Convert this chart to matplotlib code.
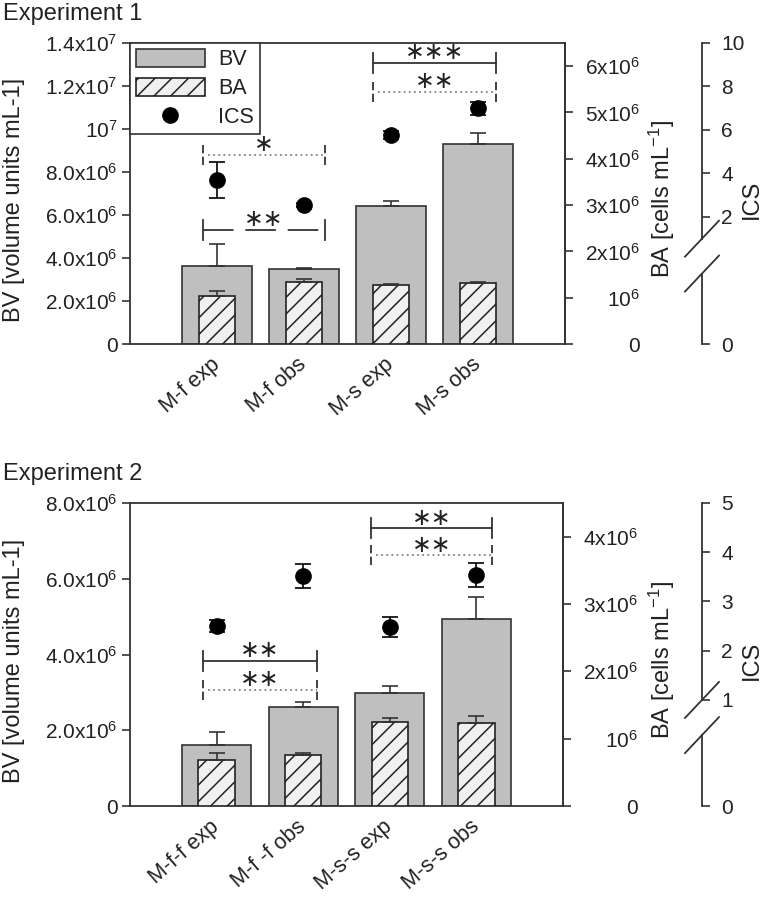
import numpy as np
import matplotlib
matplotlib.use('Agg')
import matplotlib.pyplot as plt
from matplotlib.patches import Patch
from matplotlib.lines import Line2D

plt.rcParams['font.family'] = ['Liberation Sans', 'DejaVu Sans']
plt.rcParams['mathtext.fontset'] = 'custom'
plt.rcParams['mathtext.rm'] = 'Liberation Sans'
plt.rcParams['mathtext.it'] = 'Liberation Sans:italic'
plt.rcParams['lines.scale_dashes'] = False
plt.rcParams['hatch.linewidth'] = 1.1
plt.rcParams['text.color'] = '#222222'

# ---- Experiment 1 ----
labels1 = ['M-f exp', 'M-f obs', 'M-s exp', 'M-s obs']
bv1 = [3.63e6, 3.49e6, 6.42e6, 9.30e6]
bv1_err = [1.02e6, 0.06e6, 0.23e6, 0.51e6]
ba1 = [1.04e6, 1.34e6, 1.28e6, 1.32e6]
ba1_err = [0.11e6, 0.06e6, 0.02e6, 0.02e6]
ics1 = [3.70, 2.55, 5.77, 7.01]
ics1_err = [0.82, 0.08, 0.20, 0.30]
# x0, x1, y (BV units), number of stars, line style
brackets1 = [(-0.16, 1.24, 8.79e6, 1, 'dotted'),
             (-0.16, 1.24, 5.30e6, 2, 'dashed'),
             (1.79, 3.21, 1.307e7, 3, 'solid'),
             (1.79, 3.21, 1.172e7, 2, 'dotted')]
bv1_ticks = [0, 2e6, 4e6, 6e6, 8e6, 1e7, 1.2e7, 1.4e7]
bv1_ticklabels = ['0', '2.0x10$^6$', '4.0x10$^6$', '6.0x10$^6$', '8.0x10$^6$',
                  '10$^7$', '1.2x10$^7$', '1.4x10$^7$']
ba1_ticks = [0, 1e6, 2e6, 3e6, 4e6, 5e6, 6e6]
ba1_ticklabels = ['0', '10$^6$', '2x10$^6$', '3x10$^6$', '4x10$^6$', '5x10$^6$', '6x10$^6$']
ics1_ticks = [0, 2, 4, 6, 8, 10]

# ---- Experiment 2 ----
labels2 = ['M-f-f exp', 'M-f -f obs', 'M-s-s exp', 'M-s-s obs']
bv2 = [1.61e6, 2.61e6, 2.98e6, 4.93e6]
bv2_err = [0.34e6, 0.13e6, 0.19e6, 0.58e6]
ba2 = [0.69e6, 0.76e6, 1.25e6, 1.24e6]
ba2_err = [0.09e6, 0.03e6, 0.05e6, 0.10e6]
ics2 = [2.50, 3.52, 2.48, 3.54]
ics2_err = [0.13, 0.25, 0.20, 0.24]
brackets2 = [(-0.16, 1.16, 3.83e6, 2, 'solid'),
             (-0.16, 1.16, 3.06e6, 2, 'dotted'),
             (1.78, 3.18, 7.33e6, 2, 'solid'),
             (1.78, 3.18, 6.62e6, 2, 'dotted')]
bv2_ticks = [0, 2e6, 4e6, 6e6, 8e6]
bv2_ticklabels = ['0', '2.0x10$^6$', '4.0x10$^6$', '6.0x10$^6$', '8.0x10$^6$']
ba2_ticks = [0, 1e6, 2e6, 3e6, 4e6]
ba2_ticklabels = ['0', '10$^6$', '2x10$^6$', '3x10$^6$', '4x10$^6$']
ics2_ticks = [0, 1, 2, 3, 4, 5]

BV_COLOR = '#bfbfbf'
BA_COLOR = '#f0f0f0'
EDGE = '#333333'
W_PX, H_PX = 764, 900
TICK_FS = 15


def ics_functions(brk, brk_frac, top):
    # broken ICS axis: 0..brk squeezed into 0..brk_frac, brk..top linear above
    k = (1 - brk_frac) / (top - brk)

    def fwd(v):
        v = np.asarray(v, float)
        return np.where(v >= brk, brk_frac + (v - brk) * k, v * brk_frac / brk)

    def inv(f):
        f = np.asarray(f, float)
        return np.where(f >= brk_frac, brk + (f - brk_frac) / k, f * brk / brk_frac)
    return fwd, inv


def draw_bracket(ax, x0, x1, y, n, style, cap):
    if style == 'dotted':
        ax.plot([x0 + 0.06, x1], [y, y], color='#8a8a8a', lw=1.4, ls=(0, (1.3, 2.4)))
        cap_ls = (0, (6, 2.5))
    elif style == 'dashed':
        ax.plot([x0, x1], [y, y], color=EDGE, lw=1.3, ls=(0, (22, 8.5)))
        cap_ls = '-'
    else:
        ax.plot([x0, x1], [y, y], color=EDGE, lw=1.3)
        cap_ls = '-'
    for x in (x0, x1):
        ax.plot([x, x], [y - cap, y + cap], color=EDGE, lw=1.3, ls=cap_ls)
    ax.annotate('\u2217' * n, ((x0 + x1) / 2, y), xytext=(0, 7), textcoords='offset points',
                ha='center', va='center', fontsize=17, color='#222222')


def draw_panel(fig, box, title, labels, bv, bv_err, ba, ba_err, ics, ics_err, brackets,
               bv_max, bv_ticks, bv_ticklabels, ba_max, ba_ticks, ba_ticklabels,
               ics_brk, ics_top, ics_ticks, legend=False):
    left, top, right, bottom = box
    w, h = right - left, bottom - top
    ax = fig.add_axes([left / W_PX, 1 - bottom / H_PX, w / W_PX, h / H_PX])
    ax2 = ax.twinx()
    ax3 = ax.twinx()
    x = np.arange(len(labels))

    ax.bar(x, bv, width=0.8, color=BV_COLOR, edgecolor=EDGE, lw=1.2, zorder=2)
    ax.errorbar(x, bv, yerr=[np.zeros(len(bv)), bv_err], fmt='none', ecolor=EDGE,
                elinewidth=1.2, capsize=5.5, capthick=1.2, zorder=3)
    ax2.bar(x, ba, width=0.42, color=BA_COLOR, edgecolor='#222222', hatch='//', lw=1.2, zorder=2)
    ax2.errorbar(x, ba, yerr=[np.zeros(len(ba)), ba_err], fmt='none', ecolor=EDGE,
                 elinewidth=1.2, capsize=5.5, capthick=1.2, zorder=3)

    fwd, inv = ics_functions(ics_brk, 0.422 if ics_top == 10 else 0.35, ics_top)
    ax3.set_yscale('function', functions=(fwd, inv))
    ax3.errorbar(x, ics, yerr=ics_err, fmt='o', color='black', markersize=11,
                 elinewidth=1.2, capsize=5.5, capthick=1.2, zorder=4)

    cap = bv_max * 10 / h
    for x0, x1, y, n, style in brackets:
        draw_bracket(ax, x0, x1, y, n, style, cap)

    ax.set_xlim(-1, 4)
    ax.set_ylim(0, bv_max)
    ax2.set_ylim(0, ba_max)
    ax3.set_ylim(0, ics_top)

    ax.set_yticks(bv_ticks)
    ax.set_yticklabels(bv_ticklabels)
    ax.set_xticks(x)
    ax.set_xticklabels(labels, rotation=41, ha='right', va='center', rotation_mode='anchor')
    ax.tick_params(axis='x', length=0, labelsize=15.5, pad=13, colors='#222222')
    ax.tick_params(axis='y', direction='out', length=6, width=1.2, pad=3, labelsize=TICK_FS,
                   color=EDGE, labelcolor='#222222')
    for s in ax.spines.values():
        s.set_color(EDGE)
        s.set_linewidth(1.3)

    ax2.set_yticks(ba_ticks)
    ax2.set_yticklabels(ba_ticklabels)
    ax2.tick_params(axis='y', direction='out', length=6, width=1.2, pad=48, labelsize=TICK_FS,
                    color=EDGE, labelcolor='#222222')
    for lbl in ax2.get_yticklabels():
        lbl.set_ha('right')
    for name in ('left', 'top', 'bottom'):
        ax2.spines[name].set_visible(False)
        ax3.spines[name].set_visible(False)
    ax2.spines['right'].set_color(EDGE)
    ax2.spines['right'].set_linewidth(1.3)

    # ICS axis with a break
    xpos = (702 - left) / w
    b_hi, b_lo = 0.35, 0.234
    sp = ax3.spines['right']
    sp.set_position(('axes', xpos))
    sp.set_color(EDGE)
    sp.set_linewidth(1.3)
    sp.set_bounds(float(inv(b_hi)), ics_top)
    ax3.set_yticks(ics_ticks)
    ax3.set_yticklabels([str(t) for t in ics_ticks])
    ax3.yaxis.set_minor_locator(matplotlib.ticker.NullLocator())
    ax3.tick_params(axis='y', direction='out', length=6, width=1.2, pad=8, labelsize=TICK_FS,
                    color=EDGE, labelcolor='#222222')
    ax3.add_line(Line2D([xpos, xpos], [0, b_lo], transform=ax3.transAxes, color=EDGE,
                        lw=1.3, clip_on=False))
    dx, dy = 17 / w, 18 / h
    for f in (b_hi, b_lo):
        ax3.add_line(Line2D([xpos - dx, xpos + dx], [f - dy, f + dy], transform=ax3.transAxes,
                            color=EDGE, lw=1.3, clip_on=False))

    cy = 1 - ((top + bottom) / 2 + 6) / H_PX
    fig.text(14 / W_PX, cy, 'BV [volume units mL-1]', rotation=90, ha='center', va='center',
             fontsize=17)
    fig.text(662 / W_PX, cy, 'BA [cells mL$^{-1}$]', rotation=90, ha='center', va='center',
             fontsize=17)
    fig.text(752 / W_PX, cy, 'ICS', rotation=90, ha='center', va='center', fontsize=17)
    fig.text(3 / W_PX, 1 - (top - 23) / H_PX, title, ha='left', va='baseline', fontsize=17)

    if legend:
        handles = [Patch(facecolor=BV_COLOR, edgecolor=EDGE, lw=1.2, label='BV'),
                   Patch(facecolor=BA_COLOR, edgecolor='#222222', hatch='//', lw=1.2, label='BA'),
                   Line2D([], [], marker='o', color='black', ls='none', markersize=11, label='ICS')]
        leg = ax3.legend(handles=handles, loc='upper left', bbox_to_anchor=(0, 1),
                         borderaxespad=0, fancybox=False, fontsize=15.5, handlelength=3.2,
                         handleheight=0.9, borderpad=0.28, labelspacing=0.35,
                         handletextpad=0.6, framealpha=1)
        leg.get_frame().set_edgecolor(EDGE)
        leg.get_frame().set_linewidth(1.2)
    return ax


def main():
    fig = plt.figure(figsize=(W_PX / 100, H_PX / 100), dpi=100)
    draw_panel(fig, (130, 43, 565, 344), 'Experiment 1', labels1, bv1, bv1_err, ba1, ba1_err,
               ics1, ics1_err, brackets1, 1.4e7, bv1_ticks, bv1_ticklabels,
               6.5e6, ba1_ticks, ba1_ticklabels, 2, 10, ics1_ticks, legend=True)
    draw_panel(fig, (130, 503, 563, 806), 'Experiment 2', labels2, bv2, bv2_err, ba2, ba2_err,
               ics2, ics2_err, brackets2, 8e6, bv2_ticks, bv2_ticklabels,
               4.5e6, ba2_ticks, ba2_ticklabels, 1, 5, ics2_ticks)
    fig.savefig('out.png', dpi=100)


if __name__ == '__main__':
    main()
